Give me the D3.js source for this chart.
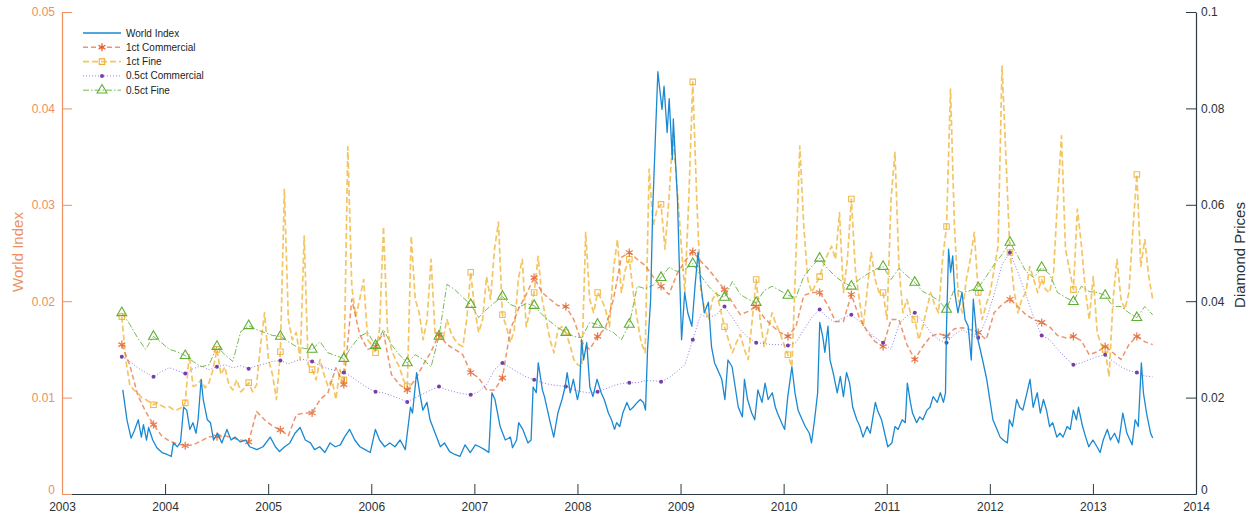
<!DOCTYPE html>
<html><head><meta charset="utf-8">
<script src="https://cdn.jsdelivr.net/npm/d3@7"></script>
<style>body{margin:0;background:#fff;} svg{display:block;font-family:"Liberation Sans",Arial,sans-serif;}</style>
</head><body><svg id="chart" width="1256" height="521"></svg>
<script>
// ---------- data ----------
const seriesNames = ["World Index", "1ct Commercial", "1ct Fine", "0.5ct Commercial", "0.5ct Fine"];
const yearTicks = [2003,2004,2005,2006,2007,2008,2009,2010,2011,2012,2013,2014];
const leftTicks = [0,0.01,0.02,0.03,0.04,0.05];
const leftTickLabels = ["0","0.01","0.02","0.03","0.04","0.05"];
const rightTicks = [0,0.02,0.04,0.06,0.08,0.1];
const rightTickLabels = ["0","0.02","0.04","0.06","0.08","0.1"];

const worldYears = [2003.59,2003.63,2003.67,2003.70,2003.74,2003.77,2003.79,2003.82,2003.84,2003.88,2003.92,2003.97,2004.02,2004.06,2004.08,2004.12,2004.15,2004.18,2004.21,2004.24,2004.27,2004.30,2004.32,2004.35,2004.37,2004.41,2004.44,2004.47,2004.51,2004.55,2004.60,2004.64,2004.68,2004.73,2004.78,2004.82,2004.89,2004.95,2005.02,2005.07,2005.11,2005.16,2005.21,
2005.26,2005.31,2005.36,2005.41,2005.45,2005.50,2005.55,2005.60,2005.65,2005.70,2005.74,2005.79,2005.84,2005.89,2005.94,2005.99,2006.04,2006.08,2006.13,2006.18,2006.23,2006.28,2006.33,2006.38,2006.40,2006.44,2006.47,2006.50,2006.54,2006.57,2006.62,2006.67,2006.71,2006.76,2006.81,2006.86,2006.91,2006.96,2007.01,
2007.05,2007.10,2007.14,2007.17,2007.20,2007.25,2007.30,2007.35,2007.37,2007.41,2007.43,2007.47,2007.52,2007.55,2007.57,2007.60,2007.62,2007.66,2007.68,2007.73,2007.77,2007.81,2007.85,2007.88,2007.90,2007.93,2007.96,2008.00,2008.02,2008.04,2008.06,2008.09,2008.12,2008.15,2008.19,2008.23,2008.26,2008.30,2008.33,2008.36,2008.38,2008.41,2008.44,2008.48,2008.51,2008.54,2008.58,2008.61,2008.64,2008.66,2008.68,2008.71,2008.73,2008.76,2008.78,2008.82,2008.84,2008.87,2008.89,2008.92,2008.93,2008.97,2008.99,
2009.01,2009.04,2009.07,2009.11,2009.14,2009.17,2009.20,2009.23,2009.27,2009.30,2009.33,2009.36,2009.40,2009.43,2009.46,2009.50,2009.53,2009.56,2009.60,2009.62,2009.65,2009.69,2009.72,2009.75,2009.79,2009.82,2009.85,2009.89,2009.92,2009.94,2009.98,2010.01,2010.04,2010.08,2010.11,2010.14,2010.18,2010.21,2010.25,2010.27,2010.30,2010.33,2010.35,2010.38,2010.40,2010.43,2010.45,2010.48,2010.52,2010.55,2010.58,2010.61,
2010.64,2010.67,2010.71,2010.74,2010.77,2010.81,2010.84,2010.89,2010.91,2010.95,2010.98,2011.01,2011.05,2011.08,2011.11,2011.15,2011.18,2011.20,2011.23,2011.25,2011.29,2011.32,2011.35,2011.39,2011.42,2011.45,2011.49,2011.52,2011.55,2011.57,2011.58,2011.60,2011.62,2011.64,2011.66,2011.69,2011.73,2011.76,2011.79,2011.82,2011.84,2011.87,2011.90,2011.93,2011.97,2012.00,2012.03,2012.07,2012.10,2012.13,2012.17,2012.19,2012.22,2012.26,2012.29,2012.32,2012.36,
2012.39,2012.42,2012.46,2012.49,2012.52,2012.55,2012.58,2012.61,2012.65,2012.68,2012.71,2012.75,2012.78,2012.81,2012.84,2012.86,2012.90,2012.93,2012.96,2013.00,2013.04,2013.07,2013.10,2013.14,2013.17,2013.21,2013.25,2013.29,2013.33,2013.38,2013.41,2013.44,2013.47,2013.49,2013.52,2013.56,2013.58];
const worldIndex = [0.0108,0.0077,0.0058,0.0065,0.0077,0.0059,0.0072,0.0056,0.0069,0.0056,0.0048,0.0043,0.0041,0.0039,0.0053,0.0049,0.0054,0.0090,0.0087,0.0067,0.0074,0.0063,0.0077,0.0119,0.0098,0.0077,0.0074,0.0056,0.0063,0.0053,0.0067,0.0056,0.0059,0.0054,0.0056,0.0049,0.0046,0.0049,0.0059,0.0049,0.0044,0.0049,0.0053,
0.0063,0.0069,0.0056,0.0053,0.0046,0.0049,0.0043,0.0053,0.0049,0.0051,0.0059,0.0067,0.0056,0.0049,0.0046,0.0043,0.0067,0.0056,0.0049,0.0053,0.0049,0.0056,0.0046,0.0090,0.0084,0.0126,0.0105,0.0087,0.0095,0.0077,0.0063,0.0049,0.0053,0.0044,0.0041,0.0039,0.0051,0.0043,0.0051,
0.0049,0.0046,0.0043,0.0105,0.0098,0.0070,0.0056,0.0059,0.0048,0.0056,0.0074,0.0067,0.0053,0.0056,0.0111,0.0105,0.0136,0.0108,0.0101,0.0077,0.0059,0.0084,0.0098,0.0111,0.0126,0.0105,0.0119,0.0098,0.0108,0.0160,0.0139,0.0157,0.0111,0.0101,0.0119,0.0105,0.0098,0.0084,0.0077,0.0067,0.0074,0.0070,0.0084,0.0095,0.0087,0.0090,0.0095,0.0098,0.0095,0.0087,0.0150,0.0202,0.0295,0.0382,0.0438,0.0399,0.0423,0.0375,0.0410,0.0347,0.0389,0.0306,0.0230,
0.0160,0.0209,0.0188,0.0174,0.0215,0.0251,0.0215,0.0188,0.0199,0.0153,0.0136,0.0129,0.0119,0.0098,0.0139,0.0132,0.0111,0.0090,0.0080,0.0119,0.0098,0.0084,0.0077,0.0108,0.0095,0.0115,0.0098,0.0105,0.0090,0.0084,0.0074,0.0067,0.0101,0.0132,0.0105,0.0087,0.0077,0.0070,0.0063,0.0053,0.0077,0.0105,0.0178,0.0163,0.0147,0.0174,0.0139,0.0126,0.0105,0.0122,0.0101,0.0126,
0.0115,0.0090,0.0077,0.0070,0.0059,0.0070,0.0063,0.0095,0.0087,0.0077,0.0063,0.0049,0.0053,0.0070,0.0067,0.0077,0.0074,0.0115,0.0095,0.0084,0.0074,0.0080,0.0077,0.0087,0.0090,0.0101,0.0095,0.0105,0.0095,0.0105,0.0174,0.0254,0.0230,0.0247,0.0209,0.0188,0.0209,0.0181,0.0174,0.0139,0.0202,0.0167,0.0153,0.0139,0.0119,0.0098,0.0077,0.0067,0.0059,0.0056,0.0053,0.0077,0.0070,0.0098,0.0090,0.0087,0.0105,
0.0119,0.0090,0.0105,0.0084,0.0098,0.0087,0.0070,0.0074,0.0059,0.0063,0.0059,0.0070,0.0067,0.0087,0.0077,0.0090,0.0070,0.0059,0.0049,0.0056,0.0049,0.0043,0.0056,0.0067,0.0056,0.0063,0.0053,0.0084,0.0063,0.0051,0.0077,0.0070,0.0136,0.0105,0.0084,0.0063,0.0058];

// diamond price series: regular sampling starting mid-2003
const diamondStart = 2003.58;
const fourWeeks = 4 / 52;
const twoWeeks = 2 / 52;

// 0.5ct Fine (every 4 weeks)
const fine05 = [0.0376,0.0352,0.0324,0.0300,0.0327,0.0314,0.0300,0.0295,0.0287,0.0275,
0.0264,0.0268,0.0306,0.0289,0.0275,0.0337,0.0349,0.0341,0.0335,0.0329,
0.0327,0.0316,0.0306,0.0302,0.0300,0.0316,0.0293,0.0287,0.0281,0.0306,
0.0327,0.0335,0.0308,0.0341,0.0310,0.0289,0.0272,0.0289,0.0279,0.0264,
0.0327,0.0435,0.0424,0.0408,0.0393,0.0366,0.0383,0.0397,0.0410,0.0393,
0.0387,0.0395,0.0391,0.0372,0.0358,0.0345,0.0335,0.0327,0.0324,0.0356,
0.0352,0.0343,0.0335,0.0320,0.0352,0.0431,0.0426,0.0433,0.0449,0.0470,
0.0462,0.0466,0.0478,0.0453,0.0431,0.0414,0.0408,0.0441,0.0414,0.0404,
0.0397,0.0422,0.0431,0.0422,0.0412,0.0408,0.0451,0.0472,0.0489,0.0468,
0.0451,0.0439,0.0431,0.0445,0.0456,0.0466,0.0472,0.0445,0.0468,0.0453,
0.0439,0.0420,0.0412,0.0401,0.0383,0.0426,0.0418,0.0422,0.0428,0.0451,
0.0476,0.0497,0.0522,0.0493,0.0462,0.0449,0.0470,0.0456,0.0418,0.0408,
0.0399,0.0431,0.0420,0.0418,0.0412,0.0389,0.0389,0.0376,0.0366,0.0389,
0.0372];

// 0.5ct Commercial (every 4 weeks)
const comm05 = [0.0285,0.0275,0.0262,0.0252,0.0243,0.0254,0.0262,0.0256,0.0250,0.0260,
0.0266,0.0258,0.0264,0.0268,0.0262,0.0266,0.0260,0.0266,0.0270,0.0275,
0.0277,0.0270,0.0277,0.0279,0.0275,0.0266,0.0260,0.0256,0.0252,0.0243,
0.0231,0.0220,0.0212,0.0210,0.0204,0.0198,0.0191,0.0200,0.0208,0.0216,
0.0223,0.0216,0.0212,0.0208,0.0206,0.0212,0.0227,0.0258,0.0272,0.0262,
0.0252,0.0243,0.0237,0.0231,0.0227,0.0225,0.0223,0.0216,0.0212,0.0210,
0.0212,0.0218,0.0225,0.0229,0.0231,0.0231,0.0235,0.0235,0.0233,0.0241,
0.0254,0.0268,0.0320,0.0372,0.0366,0.0372,0.0389,0.0366,0.0341,0.0324,
0.0314,0.0312,0.0310,0.0310,0.0308,0.0314,0.0341,0.0366,0.0383,0.0366,
0.0356,0.0366,0.0372,0.0358,0.0341,0.0324,0.0314,0.0300,0.0352,0.0370,
0.0376,0.0358,0.0335,0.0320,0.0314,0.0331,0.0341,0.0331,0.0324,0.0362,
0.0414,0.0476,0.0501,0.0460,0.0414,0.0366,0.0329,0.0320,0.0300,0.0283,
0.0268,0.0272,0.0279,0.0285,0.0289,0.0275,0.0264,0.0256,0.0252,0.0245,
0.0243];

// 1ct Commercial (every 4 weeks)
const comm1 = [0.0310,0.0268,0.0206,0.0171,0.0144,0.0121,0.0110,0.0104,0.0100,0.0102,
0.0110,0.0119,0.0119,0.0121,0.0116,0.0112,0.0108,0.0171,0.0154,0.0141,
0.0133,0.0121,0.0164,0.0168,0.0168,0.0196,0.0210,0.0262,0.0227,0.0404,
0.0331,0.0300,0.0306,0.0335,0.0248,0.0227,0.0216,0.0237,0.0268,0.0295,
0.0331,0.0310,0.0300,0.0289,0.0252,0.0241,0.0216,0.0216,0.0241,0.0341,
0.0383,0.0414,0.0449,0.0418,0.0404,0.0391,0.0389,0.0362,0.0314,0.0300,
0.0327,0.0345,0.0404,0.0491,0.0501,0.0487,0.0474,0.0451,0.0431,0.0414,
0.0456,0.0483,0.0503,0.0483,0.0466,0.0445,0.0424,0.0397,0.0372,0.0379,
0.0389,0.0366,0.0349,0.0335,0.0327,0.0347,0.0412,0.0418,0.0418,0.0393,
0.0358,0.0358,0.0414,0.0366,0.0337,0.0316,0.0306,0.0362,0.0362,0.0310,
0.0279,0.0306,0.0327,0.0333,0.0327,0.0343,0.0345,0.0341,0.0335,0.0320,
0.0376,0.0393,0.0404,0.0389,0.0372,0.0362,0.0356,0.0347,0.0329,0.0324,
0.0327,0.0318,0.0289,0.0295,0.0306,0.0293,0.0279,0.0310,0.0327,0.0316,
0.0310];

// 1ct Fine (every 2 weeks)
const fine1 = [0.0368,0.0279,0.0227,0.0216,0.0210,0.0200,0.0196,0.0191,0.0185,0.0189,
0.0183,0.0179,0.0181,0.0175,0.0175,0.0179,0.0189,0.0289,0.0223,0.0227,
0.0237,0.0220,0.0231,0.0258,0.0300,0.0248,0.0264,0.0227,0.0216,0.0237,
0.0212,0.0220,0.0231,0.0212,0.0227,0.0310,0.0376,0.0279,0.0248,0.0196,
0.0295,0.0632,0.0362,0.0320,0.0335,0.0279,0.0535,0.0268,0.0258,0.0237,
0.0279,0.0248,0.0223,0.0237,0.0196,0.0258,0.0237,0.0720,0.0431,0.0368,
0.0404,0.0445,0.0320,0.0310,0.0293,0.0341,0.0555,0.0341,0.0300,0.0279,
0.0264,0.0237,0.0223,0.0535,0.0404,0.0376,0.0320,0.0362,0.0487,0.0335,
0.0327,0.0320,0.0362,0.0335,0.0320,0.0310,0.0306,0.0362,0.0460,0.0383,
0.0335,0.0362,0.0451,0.0404,0.0508,0.0564,0.0372,0.0347,0.0314,0.0341,
0.0445,0.0487,0.0347,0.0383,0.0418,0.0493,0.0404,0.0362,0.0320,0.0293,
0.0341,0.0347,0.0335,0.0310,0.0279,0.0268,0.0264,0.0543,0.0404,0.0376,
0.0418,0.0404,0.0383,0.0347,0.0466,0.0528,0.0418,0.0466,0.0487,0.0418,
0.0362,0.0314,0.0293,0.0674,0.0555,0.0591,0.0601,0.0508,0.0612,0.0747,
0.0643,0.0528,0.0418,0.0612,0.0855,0.0612,0.0424,0.0383,0.0362,0.0404,
0.0418,0.0383,0.0347,0.0320,0.0293,0.0314,0.0331,0.0300,0.0279,0.0362,
0.0445,0.0362,0.0306,0.0341,0.0376,0.0352,0.0335,0.0310,0.0289,0.0264,
0.0487,0.0722,0.0555,0.0445,0.0418,0.0435,0.0451,0.0476,0.0497,0.0514,
0.0487,0.0584,0.0418,0.0487,0.0612,0.0466,0.0404,0.0347,0.0424,0.0501,
0.0445,0.0418,0.0418,0.0362,0.0612,0.0709,0.0472,0.0376,0.0404,0.0372,
0.0362,0.0320,0.0347,0.0383,0.0418,0.0393,0.0376,0.0487,0.0555,0.0840,
0.0555,0.0404,0.0376,0.0445,0.0487,0.0543,0.0418,0.0362,0.0393,0.0418,
0.0466,0.0514,0.0888,0.0695,0.0501,0.0424,0.0376,0.0404,0.0418,0.0472,
0.0445,0.0418,0.0445,0.0424,0.0418,0.0460,0.0612,0.0743,0.0508,0.0466,
0.0424,0.0591,0.0518,0.0424,0.0362,0.0451,0.0335,0.0310,0.0300,0.0243,
0.0404,0.0487,0.0404,0.0383,0.0418,0.0549,0.0663,0.0472,0.0528,0.0451,
0.0404];

// ---------- chart ----------
const svg = d3.select("#chart");
const x = d3.scaleLinear().domain([2003, 2014]).range([62, 1196]);
const yL = d3.scaleLinear().domain([0, 0.05]).range([494, 12]);
const yR = d3.scaleLinear().domain([0, 0.1]).range([494, 12]);

const leftColor = "#ee9062";
const darkAxis = "#2b3a42";

function regular(values, step) {
  return values.map((v, i) => ({ t: diamondStart + i * step, v }));
}
const dFine05 = regular(fine05, fourWeeks);
const dComm05 = regular(comm05, fourWeeks);
const dComm1 = regular(comm1, fourWeeks);
const dFine1 = regular(fine1, twoWeeks);
const dWorld = worldYears.map((t, i) => ({ t, v: worldIndex[i] }));

const lineR = d3.line().x(d => x(d.t)).y(d => yR(d.v));
const lineL = d3.line().x(d => x(d.t)).y(d => yL(d.v));

const styles = {
  comm1:  { color: "#e4682f", dash: "5,3", width: 1.5, op: 0.7 },
  fine1:  { color: "#efb22f", dash: "6,3", width: 1.7, op: 0.75 },
  comm05: { color: "#7b68d8", dash: "1,2", width: 1.0, op: 0.85 },
  fine05: { color: "#68b040", dash: "6,2,1.5,2", width: 1.0, op: 0.9 },
  world:  { color: "#1a88d2", width: 1.3 }
};

const plot = svg.append("g");

function drawLine(data, gen, st) {
  plot.append("path").datum(data).attr("d", gen)
    .attr("fill", "none").attr("stroke", st.color).attr("stroke-width", st.width)
    .attr("stroke-dasharray", st.dash || null).attr("stroke-opacity", st.op || 1)
    .attr("stroke-linejoin", "round");
}

drawLine(dFine1, lineR, styles.fine1);
drawLine(dComm1, lineR, styles.comm1);
drawLine(dComm05, lineR, styles.comm05);
drawLine(dFine05, lineR, styles.fine05);

const symAst = d3.symbol().type(d3.symbolAsterisk).size(45);
const symSq = d3.symbol().type(d3.symbolSquare).size(30);
const symTri = d3.symbol().type(d3.symbolTriangle).size(42);

function drawMarkers(data, every, kind) {
  const pts = data.filter((d, i) => i % every === 0);
  const g = plot.append("g");
  pts.forEach(d => {
    const cx = x(d.t), cy = yR(d.v);
    if (kind === "ast") {
      g.append("path").attr("d", symAst()).attr("transform", `translate(${cx},${cy})`)
        .attr("fill", "none").attr("stroke", "#e0602a").attr("stroke-width", 1.3).attr("stroke-opacity", 0.8);
    } else if (kind === "sq") {
      g.append("path").attr("d", symSq()).attr("transform", `translate(${cx},${cy})`)
        .attr("fill", "none").attr("stroke", "#efae2a").attr("stroke-width", 1.1).attr("stroke-opacity", 0.85);
    } else if (kind === "dot") {
      g.append("circle").attr("cx", cx).attr("cy", cy).attr("r", 2)
        .attr("fill", "#7440a8");
    } else if (kind === "tri") {
      g.append("path").attr("d", symTri()).attr("transform", `translate(${cx},${cy})`)
        .attr("fill", "none").attr("stroke", "#5fae35").attr("stroke-width", 1.1);
    }
  });
}
drawMarkers(dFine1, 8, "sq");
drawMarkers(dComm1, 4, "ast");
drawMarkers(dComm05, 4, "dot");
drawMarkers(dFine05, 4, "tri");

drawLine(dWorld, lineL, styles.world);

// ---------- axes ----------
const fs = "12px";
const xAxis = d3.axisBottom(x).tickValues(yearTicks).tickFormat(d3.format("d"))
  .tickSize(-10).tickSizeOuter(0).tickPadding(8);
const gx = svg.append("g").attr("transform", "translate(0,494)").call(xAxis);
gx.select(".domain").attr("stroke", darkAxis).attr("stroke-width", 1.2);
gx.selectAll(".tick line").attr("stroke", darkAxis);
gx.selectAll("text").attr("fill", "#2a3238").style("font-size", fs).style("font-family", "Liberation Sans, Arial, sans-serif");

const yAxisL = d3.axisLeft(yL).tickValues(leftTicks).tickFormat((d, i) => leftTickLabels[i])
  .tickSize(-10).tickSizeOuter(0).tickPadding(7);
const gl = svg.append("g").attr("transform", "translate(62,0)").call(yAxisL);
gl.select(".domain").attr("stroke", leftColor).attr("stroke-width", 1.2);
gl.selectAll(".tick line").attr("stroke", leftColor);
gl.selectAll("text").attr("fill", leftColor).style("font-size", fs).style("font-family", "Liberation Sans, Arial, sans-serif");
gl.selectAll(".tick text").filter(d => d === 0).attr("dy", "-0.05em");

const yAxisR = d3.axisRight(yR).tickValues(rightTicks).tickFormat((d, i) => rightTickLabels[i])
  .tickSize(-10).tickSizeOuter(0).tickPadding(5);
const gr = svg.append("g").attr("transform", "translate(1196,0)").call(yAxisR);
gr.select(".domain").attr("stroke", darkAxis).attr("stroke-width", 1.2);
gr.selectAll(".tick line").attr("stroke", darkAxis);
gr.selectAll("text").attr("fill", "#2a3238").style("font-size", fs).style("font-family", "Liberation Sans, Arial, sans-serif");
gr.selectAll(".tick text").filter(d => d === 0).attr("dy", "-0.05em");

svg.append("text").attr("transform", "translate(23,252) rotate(-90)")
  .attr("text-anchor", "middle").attr("fill", leftColor).style("font-size", "15px")
  .text("World Index");
svg.append("text").attr("transform", "translate(1245,255) rotate(-90)")
  .attr("text-anchor", "middle").attr("fill", "#2a3238").style("font-size", "15px")
  .text("Diamond Prices");

// ---------- legend ----------
const legendRows = [
  { name: seriesNames[0], st: styles.world, kind: null },
  { name: seriesNames[1], st: styles.comm1, kind: "ast" },
  { name: seriesNames[2], st: styles.fine1, kind: "sq" },
  { name: seriesNames[3], st: styles.comm05, kind: "dot" },
  { name: seriesNames[4], st: styles.fine05, kind: "tri" }
];
const lg = svg.append("g").attr("transform", "translate(83,33)");
legendRows.forEach((r, i) => {
  const yy = i * 14.3;
  lg.append("line").attr("x1", 0).attr("x2", 38).attr("y1", yy).attr("y2", yy)
    .attr("stroke", r.st.color).attr("stroke-width", r.st.width)
    .attr("stroke-dasharray", r.st.dash || null).attr("stroke-opacity", r.st.op || 1);
  const mx = 19;
  if (r.kind === "ast") lg.append("path").attr("d", symAst()).attr("transform", `translate(${mx},${yy})`).attr("fill", "none").attr("stroke", "#e0602a").attr("stroke-width", 1.3);
  if (r.kind === "sq") lg.append("path").attr("d", symSq()).attr("transform", `translate(${mx},${yy})`).attr("fill", "none").attr("stroke", "#efae2a").attr("stroke-width", 1.1);
  if (r.kind === "dot") lg.append("circle").attr("cx", mx).attr("cy", yy).attr("r", 2).attr("fill", "#7440a8");
  if (r.kind === "tri") lg.append("path").attr("d", symTri()).attr("transform", `translate(${mx},${yy})`).attr("fill", "none").attr("stroke", "#5fae35").attr("stroke-width", 1.1);
  lg.append("text").attr("x", 43).attr("y", yy).attr("dy", "0.35em")
    .attr("fill", "#222").style("font-size", "10px").text(r.name);
});
</script></body></html>
